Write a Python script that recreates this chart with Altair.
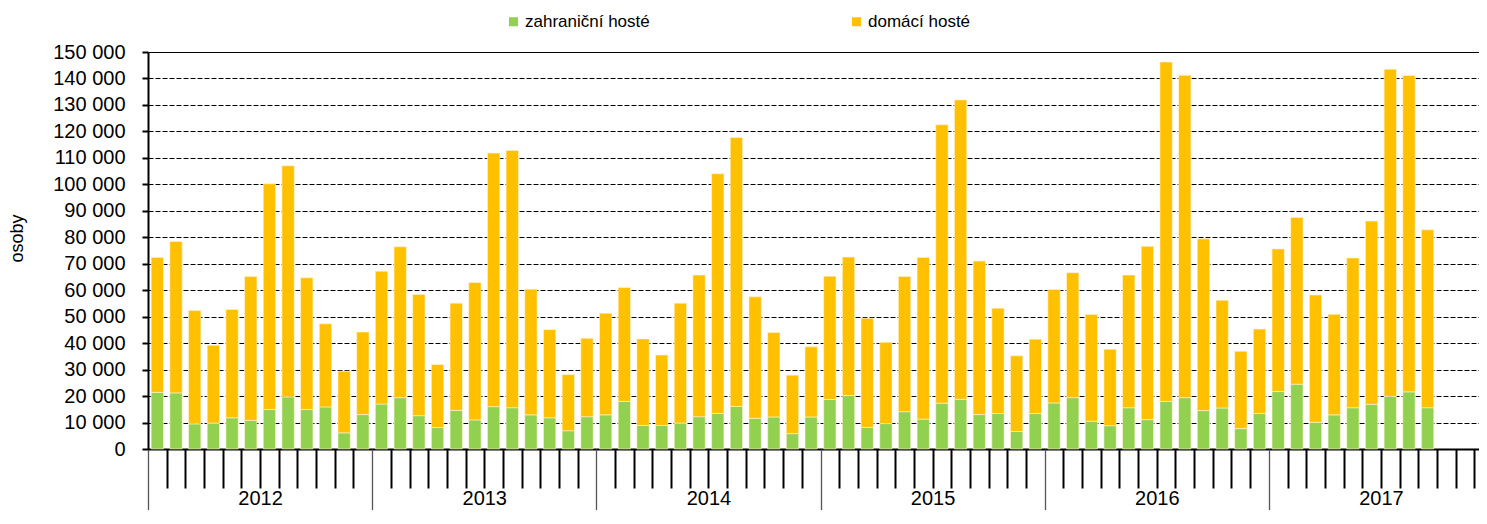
import altair as alt
import pandas as pd

years = [2012, 2013, 2014, 2015, 2016, 2017]
series_names = ["zahraniční hosté", "domácí hosté"]
series_colors = ["#92D050", "#FFC000"]

# zahraniční hosté (foreign guests), monthly 2012-01 .. 2017-09
foreign = [
    21400, 21200, 9500, 9800, 11800, 10800, 14900, 19700, 14900, 15900, 6100, 13000,
    17000, 19400, 12600, 8100, 14600, 11000, 16000, 15600, 12900, 11800, 6900, 12200,
    12900, 18000, 8900, 8900, 9800, 12200, 13400, 16100, 11600, 12100, 5800, 12100,
    18700, 20200, 8200, 9600, 14100, 11300, 17300, 18800, 13000, 13400, 6600, 13400,
    17400, 19400, 10500, 8800, 15600, 11100, 18000, 19400, 14500, 15500, 7700, 13400,
    21700, 24500, 10100, 12900, 15600, 16900, 19900, 21600, 15600,
]
# domácí hosté (domestic guests)
domestic = [
    51000, 57200, 42800, 29400, 40900, 54400, 85300, 87300, 49800, 31400, 23300, 31200,
    50200, 57000, 45800, 23800, 40500, 51900, 95800, 97200, 47500, 33300, 21200, 29600,
    38400, 43000, 32700, 26600, 45300, 53500, 90600, 101600, 45900, 31900, 22100, 26500,
    46600, 52300, 41200, 30700, 51100, 61100, 105200, 113100, 58000, 39800, 28600, 28100,
    42900, 47200, 40300, 28900, 50100, 65500, 128200, 121800, 64900, 40700, 29200, 31900,
    53900, 63000, 48100, 38000, 56600, 69200, 123600, 119500, 67200,
]

n_slots = 12 * len(years)
rows = []
for i, v in enumerate(foreign):
    rows.append({"month": i, "series": series_names[0], "ord": 0, "value": v})
for i, v in enumerate(domestic):
    rows.append({"month": i, "series": series_names[1], "ord": 1, "value": v})
df = pd.DataFrame(rows)

year_df = pd.DataFrame({"start": [12 * k for k in range(len(years))],
                        "mid": [12 * k + 6 for k in range(len(years))]})

FONT = "Liberation Sans"
xscale = alt.Scale(domain=[0, 71.25], nice=False, zero=False)
yscale = alt.Scale(domain=[0, 150000], nice=False)

month_ticks = [k for k in range(n_slots) if k % 12 != 0]

bars = alt.Chart(df).transform_stack(
    stack="value", groupby=["month"], as_=["v0", "v1"],
    sort=[alt.SortField("ord", order="ascending")]
).transform_calculate(
    x0="datum.month + 0.17", x1="datum.month + 0.83"
).mark_bar(stroke="#FFF4D6", strokeWidth=0.6).encode(
    x=alt.X("x0:Q", scale=xscale, axis=alt.Axis(
        orient="bottom", values=month_ticks, tickSize=39, tickWidth=2,
        tickColor="black", labels=False, domain=True, domainWidth=2,
        domainColor="black", grid=False, title=None)),
    x2="x1:Q",
    y=alt.Y("v1:Q", scale=yscale, axis=alt.Axis(
        values=list(range(0, 150001, 10000)),
        labelExpr="datum.value == 0 ? '0' : format(datum.value / 1000, 'd') + ' 000'",
        labelFontSize=20, labelFont=FONT, labelColor="black", labelPadding=17,
        tickSize=6, tickWidth=2, tickColor="black",
        domainColor="black", domainWidth=2,
        grid=True, gridColor="black", gridWidth=1,
        gridDash={"condition": {"test": "datum.value === 150000", "value": []}, "value": [5, 2]},
        title="osoby", titleFontSize=18, titleFont=FONT, titleFontWeight="normal",
        titleColor="black", titleX=-126, titleY=186, titleBaseline="alphabetic")),
    y2="v0:Q",
    color=alt.Color("series:N", scale=alt.Scale(domain=series_names, range=series_colors),
                    legend=alt.Legend(orient="none", legendX=357, legendY=-39,
                                      direction="horizontal", columns=2, columnPadding=198,
                                      symbolType="square", symbolSize=81, symbolStrokeWidth=0,
                                      labelFontSize=17, labelFont=FONT, labelColor="black",
                                      labelOffset=3, title=None, padding=0)),
)

yearsep = alt.Chart(year_df).mark_rule(opacity=0).encode(
    x=alt.X("start:Q", scale=xscale, axis=alt.Axis(
        orient="bottom", values=[12 * k for k in range(len(years))], tickSize=80,
        tickWidth=1.3, tickColor="#555555", labels=False, domain=False, grid=False,
        title=None))
)

yearlab = alt.Chart(year_df).mark_rule(opacity=0).encode(
    x=alt.X("mid:Q", scale=xscale, axis=alt.Axis(
        orient="bottom", values=[12 * k + 6 for k in range(len(years))], ticks=False,
        labelExpr="'' + (2012 + floor(datum.value / 12))", labelFontSize=20,
        labelFont=FONT, labelColor="black", labelPadding=55, labelBaseline="alphabetic",
        labelFlush=False, labelOverlap=False, domain=False, grid=False, title=None))
)

chart = alt.layer(bars, yearsep, yearlab).resolve_axis(x="independent").properties(
    width=1331, height=397,
    padding={"left": 140, "top": 44, "right": 0, "bottom": 61},
    autosize=alt.AutoSizeParams(type="none"),
).configure_view(stroke=None).configure(font=FONT)

chart.save("out.html", embed_options={"renderer": "svg", "actions": False})
